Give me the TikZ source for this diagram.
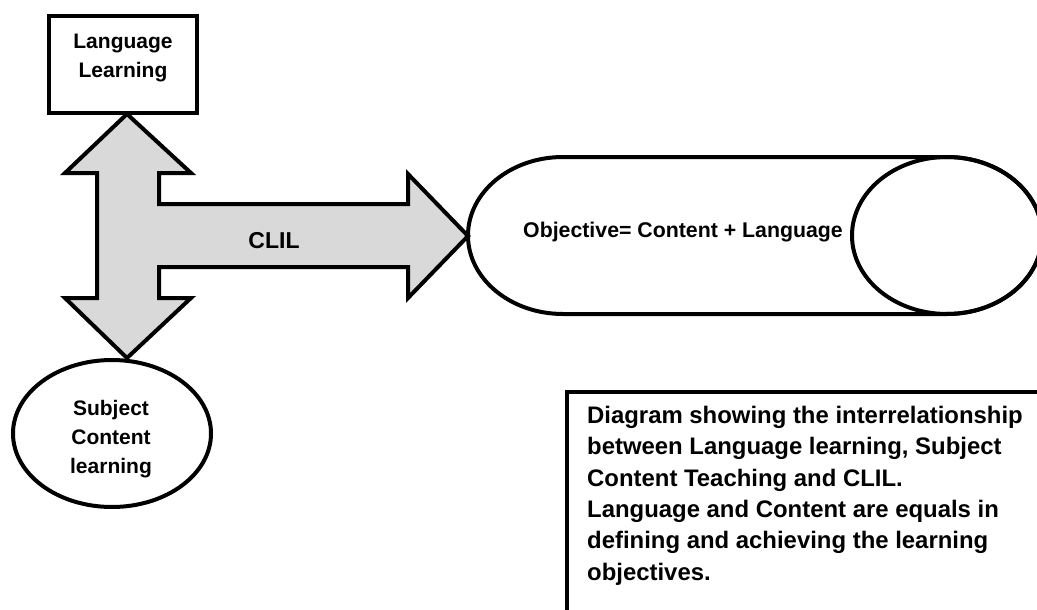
\documentclass[tikz,border=0pt]{standalone}
\usepackage{fontspec}
\setmainfont{Liberation Sans}
\usetikzlibrary{shapes.geometric}
\definecolor{arrowgray}{RGB}{217,217,217}
\begin{document}
\begin{tikzpicture}[x=1pt,y=-1pt,
  outline/.style={draw=black, line width=4pt, line join=miter},
  txt/.style={font=\bfseries\fontsize{21}{29}\selectfont, inner sep=0pt, align=center},
  bigtxt/.style={font=\bfseries\fontsize{23.9}{31.3}\selectfont, inner sep=0pt, align=left},
]
\clip (0,0) rectangle (1037,610);
\fill[white] (0,0) rectangle (1037,610);

% Language Learning box
\node[outline, rectangle, minimum width=148pt, minimum height=97pt, inner sep=0pt] (ll) at (123,64.5) {};
\node[txt, anchor=north] (lltext) at (123,33.5) {Language\\Learning};

% Subject content ellipse
\node[outline, ellipse, minimum width=198pt, minimum height=147pt, inner sep=0pt] (sc) at (112,433.5) {};
\node[txt, anchor=north] (sctext) at (111,400) {Subject\\Content\\learning};

% Cylinder (objective)
\coordinate (cylL) at (563,235.5);
\coordinate (cylR) at (947,235.5);
\draw[outline, fill=white] (563,157) -- (947,157)
  arc[start angle=-90, end angle=90, x radius=95, y radius=78.5]
  -- (563,314)
  arc[start angle=90, end angle=270, x radius=95, y radius=78.5] -- cycle;
\draw[outline] (cylR) ellipse [x radius=95, y radius=78.5];
\node[font=\bfseries\fontsize{21.3}{29}\selectfont, inner sep=0pt, anchor=base west] (obj) at (523,237) {Objective= Content + Language};

% Three-way arrow
\coordinate (tipT) at (127,114);
\coordinate (tipB) at (127,358);
\coordinate (tipR) at (468,236);
\draw[outline, fill=arrowgray] (tipT) -- (191,173) -- (159,173) -- (159,204) -- (408,204)
  -- (408,174) -- (tipR) -- (408,298) -- (408,267) -- (159,267) -- (159,298)
  -- (191,298) -- (tipB) -- (65,298) -- (97,298) -- (97,173) -- (65,173) -- cycle;
\node[font=\bfseries\fontsize{23}{28}\selectfont, inner sep=0pt, anchor=base] (clil) at (274,248) {CLIL};

% Caption box
\node[draw=black, line width=3.5pt, rectangle, anchor=north west, minimum width=490pt, minimum height=240pt, inner sep=0pt] (cap) at (565,390) {};
\node[bigtxt, anchor=north west] (captext) at (587,406) {Diagram showing the interrelationship\\between Language learning, Subject\\Content Teaching and CLIL.\\Language and Content are equals in\\defining and achieving the learning\\objectives.};
\end{tikzpicture}
\end{document}
